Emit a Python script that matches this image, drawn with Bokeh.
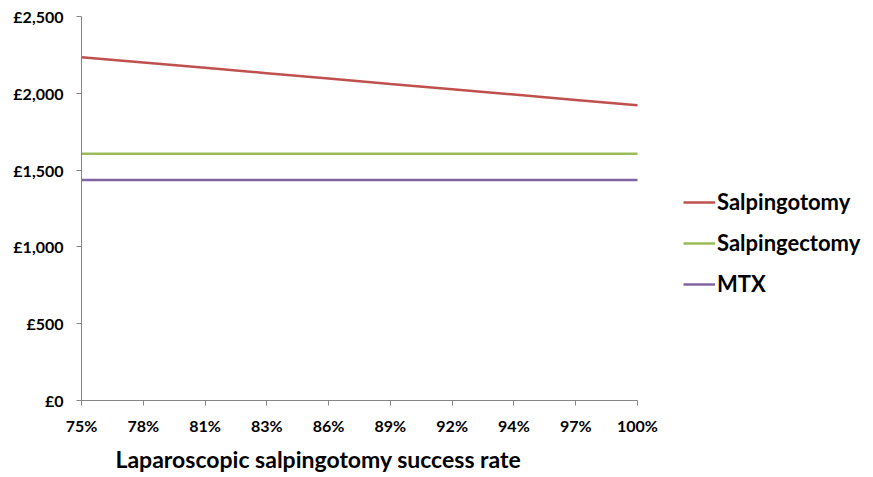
from bokeh.plotting import figure
from bokeh.models import Legend, LegendItem, Title, FixedTicker
from bokeh.embed import file_html
from bokeh.resources import INLINE

# Data
categories = ["75%", "78%", "81%", "83%", "86%", "89%", "92%", "94%", "97%", "100%"]
salpingotomy = [2235, 2200, 2166, 2131, 2096, 2061, 2027, 1992, 1957, 1922]
salpingectomy = [1607, 1607, 1607, 1607, 1607, 1607, 1607, 1607, 1607, 1607]
mtx = [1435, 1435, 1435, 1435, 1435, 1435, 1435, 1435, 1435, 1435]
y_ticks = [0, 500, 1000, 1500, 2000, 2500]
y_tick_labels = ["£0", "£500", "£1,000", "£1,500", "£2,000", "£2,500"]
x_title = "Laparoscopic salpingotomy success rate"

FONT = "Lato"
AXIS_COLOR = "#868686"

xs = list(range(len(categories)))
n = len(categories) - 1

W, H = 873, 477
left, top, bottom_px = 81, 16, 401
cat_px = (637 - 81) / n
x_end = (W - left) / cat_px

p = figure(width=W, height=H, x_range=(0, x_end), y_range=(0, 2500),
           output_backend="svg", toolbar_location=None,
           min_border_left=left, min_border_top=top,
           min_border_bottom=H - bottom_px, min_border_right=0)
p.outline_line_color = None
p.xgrid.grid_line_color = None
p.ygrid.grid_line_color = None
p.background_fill_color = "white"
p.border_fill_color = "white"

r1 = p.line(xs, salpingotomy, line_color="#C0504D", line_width=2.5)
r2 = p.line(xs, salpingectomy, line_color="#9BBB59", line_width=2.5)
r3 = p.line(xs, mtx, line_color="#8064A2", line_width=2.5)

# Axes
p.xaxis.ticker = FixedTicker(ticks=xs)
p.xaxis.bounds = (0, n)
p.xaxis.major_label_overrides = {i: c for i, c in enumerate(categories)}
p.yaxis.ticker = FixedTicker(ticks=y_ticks)
p.yaxis.major_label_overrides = {v: l for v, l in zip(y_ticks, y_tick_labels)}
for ax in (p.xaxis[0], p.yaxis[0]):
    ax.axis_line_color = AXIS_COLOR
    ax.major_tick_line_color = AXIS_COLOR
    ax.minor_tick_line_color = None
    ax.major_tick_out = 5
    ax.major_tick_in = 0
    ax.major_label_text_font = FONT
    ax.major_label_text_font_style = "bold"
    ax.major_label_text_font_size = "16px"
    ax.major_label_text_color = "#000000"
p.xaxis.major_label_standoff = 10
p.yaxis.major_label_standoff = 13

t = Title(text=x_title, align="left", offset=115 - left,
          text_font=FONT, text_font_style="bold", text_font_size="23px",
          text_color="#000000", standoff=10)
p.add_layout(t, "below")

legend = Legend(items=[
    LegendItem(label="Salpingotomy", renderers=[r1]),
    LegendItem(label="Salpingectomy", renderers=[r2]),
    LegendItem(label="MTX", renderers=[r3]),
], location=(683 - left, bottom_px - 298))
legend.border_line_color = None
legend.background_fill_alpha = 0
legend.padding = 0
legend.margin = 0
legend.glyph_width = 32
legend.label_standoff = 2
legend.spacing = 14
legend.label_text_font = FONT
legend.label_text_font_style = "bold"
legend.label_text_font_size = "22px"
legend.label_text_color = "#000000"
p.add_layout(legend)

open("out.html", "w").write(file_html(p, INLINE))
